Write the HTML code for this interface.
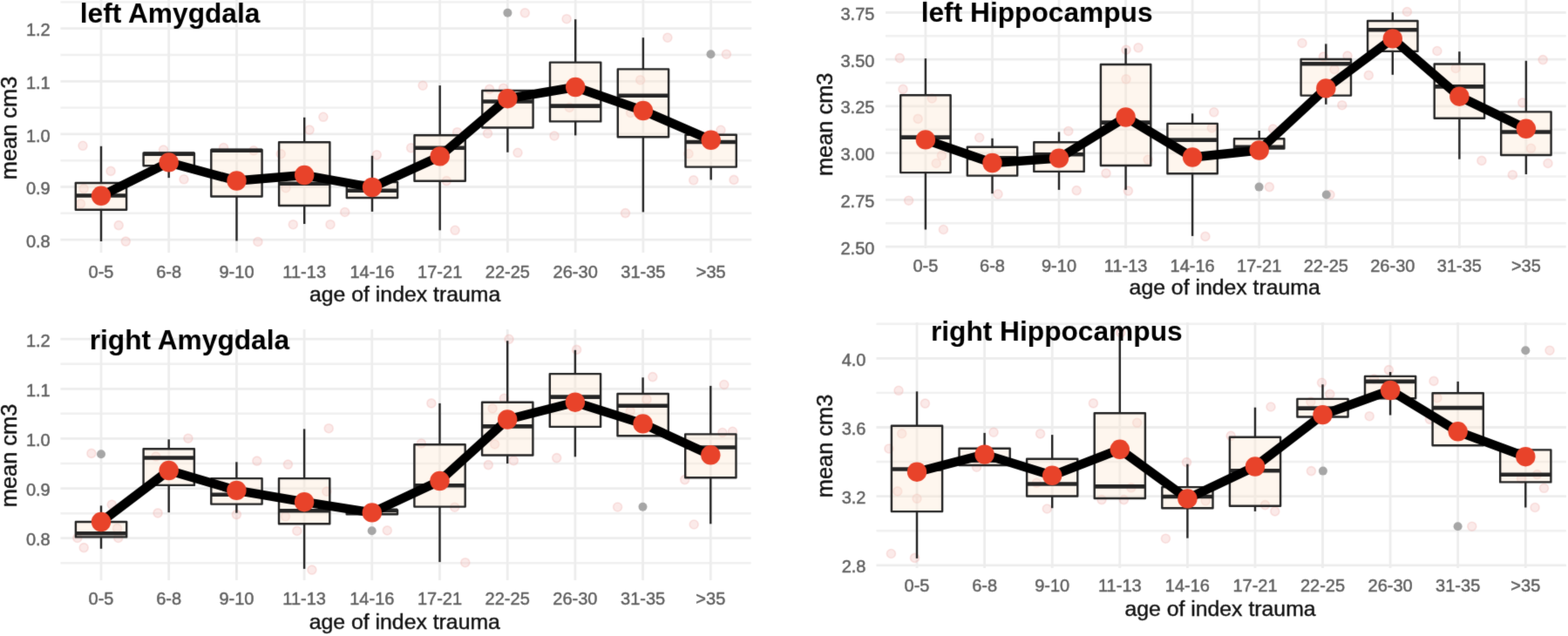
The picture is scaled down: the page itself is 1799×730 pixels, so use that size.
<!DOCTYPE html>
<html><head><meta charset="utf-8"><title>Amygdala and Hippocampus volume by age of index trauma</title>
<style>
html,body{margin:0;padding:0;background:#fff;}
body{width:1799px;height:730px;overflow:hidden;}
svg{display:block;}
#wrap{width:1799px;height:730px;}
text{font-family:"Liberation Sans",Arial,Helvetica,sans-serif;}
.tk{font-size:20px;fill:#606060;stroke:#606060;stroke-width:0.45px;}
.at{font-size:24.8px;fill:#111;stroke:#111;stroke-width:0.4px;}
.yt{font-size:25.4px;}
.pt{font-size:31.7px;font-weight:bold;fill:#000;}
.pk{fill:#f3b8b5;fill-opacity:0.3;stroke:#eda09c;stroke-opacity:0.26;stroke-width:1.6;}
.wh{stroke:#242424;stroke-width:2.4;}
.bx{fill:#fbe5d1;fill-opacity:0.36;stroke:#242424;stroke-width:2.4;stroke-linejoin:round;}
.md{stroke:#242424;stroke-width:4.6;}
.ol{fill:#a6a6a6;}
.ml{fill:none;stroke:#000;stroke-width:10.4;stroke-linejoin:round;stroke-linecap:butt;}
.mp{fill:#e8432a;}
</style></head>
<body><div id="wrap">
<svg width="1799" height="730" viewBox="0 0 1799 730">
<defs><filter id="soft" x="0" y="0" width="1799" height="730" filterUnits="userSpaceOnUse" color-interpolation-filters="sRGB"><feConvolveMatrix order="3" kernelMatrix="0.0114 0.0841 0.0114 0.0841 0.618 0.0841 0.0114 0.0841 0.0114" edgeMode="duplicate"/></filter></defs>
<g filter="url(#soft)">
<rect x="0" y="0" width="1799" height="730" fill="#fff"/>
<line x1="69.4" y1="244.8" x2="862.3" y2="244.8" stroke="#f0f0f0" stroke-width="2.4"/>
<line x1="69.4" y1="184.2" x2="862.3" y2="184.2" stroke="#f0f0f0" stroke-width="2.4"/>
<line x1="69.4" y1="123.6" x2="862.3" y2="123.6" stroke="#f0f0f0" stroke-width="2.4"/>
<line x1="69.4" y1="63" x2="862.3" y2="63" stroke="#f0f0f0" stroke-width="2.4"/>
<line x1="69.4" y1="2.4" x2="862.3" y2="2.4" stroke="#f0f0f0" stroke-width="2.4"/>
<line x1="69.4" y1="275.1" x2="862.3" y2="275.1" stroke="#ededed" stroke-width="2.8"/>
<line x1="69.4" y1="214.5" x2="862.3" y2="214.5" stroke="#ededed" stroke-width="2.8"/>
<line x1="69.4" y1="153.9" x2="862.3" y2="153.9" stroke="#ededed" stroke-width="2.8"/>
<line x1="69.4" y1="93.3" x2="862.3" y2="93.3" stroke="#ededed" stroke-width="2.8"/>
<line x1="69.4" y1="32.7" x2="862.3" y2="32.7" stroke="#ededed" stroke-width="2.8"/>
<line x1="116" y1="0" x2="116" y2="290" stroke="#ededed" stroke-width="2.8"/>
<line x1="193.7" y1="0" x2="193.7" y2="290" stroke="#ededed" stroke-width="2.8"/>
<line x1="271.5" y1="0" x2="271.5" y2="290" stroke="#ededed" stroke-width="2.8"/>
<line x1="349.2" y1="0" x2="349.2" y2="290" stroke="#ededed" stroke-width="2.8"/>
<line x1="427" y1="0" x2="427" y2="290" stroke="#ededed" stroke-width="2.8"/>
<line x1="504.7" y1="0" x2="504.7" y2="290" stroke="#ededed" stroke-width="2.8"/>
<line x1="582.4" y1="0" x2="582.4" y2="290" stroke="#ededed" stroke-width="2.8"/>
<line x1="660.2" y1="0" x2="660.2" y2="290" stroke="#ededed" stroke-width="2.8"/>
<line x1="737.9" y1="0" x2="737.9" y2="290" stroke="#ededed" stroke-width="2.8"/>
<line x1="815.7" y1="0" x2="815.7" y2="290" stroke="#ededed" stroke-width="2.8"/>
<circle cx="95" cy="167.3" r="5" class="pk"/>
<circle cx="127.1" cy="196.4" r="5" class="pk"/>
<circle cx="136.2" cy="258.6" r="5" class="pk"/>
<circle cx="144.3" cy="277.1" r="5" class="pk"/>
<circle cx="96.2" cy="216.6" r="5" class="pk"/>
<circle cx="92.5" cy="233.9" r="5" class="pk"/>
<circle cx="211" cy="205.8" r="5" class="pk"/>
<circle cx="187.5" cy="172" r="5" class="pk"/>
<circle cx="256.6" cy="169.5" r="5" class="pk"/>
<circle cx="291" cy="172.8" r="5" class="pk"/>
<circle cx="295.9" cy="277.5" r="5" class="pk"/>
<circle cx="322.3" cy="176.7" r="5" class="pk"/>
<circle cx="327.9" cy="215.7" r="5" class="pk"/>
<circle cx="336.3" cy="257.7" r="5" class="pk"/>
<circle cx="355.1" cy="149.1" r="5" class="pk"/>
<circle cx="370.9" cy="134.3" r="5" class="pk"/>
<circle cx="379" cy="257.7" r="5" class="pk"/>
<circle cx="395.7" cy="243.5" r="5" class="pk"/>
<circle cx="432.3" cy="177.8" r="5" class="pk"/>
<circle cx="485.1" cy="98.2" r="5" class="pk"/>
<circle cx="602.3" cy="14.8" r="5" class="pk"/>
<circle cx="561.6" cy="102.4" r="5" class="pk"/>
<circle cx="577.6" cy="101.2" r="5" class="pk"/>
<circle cx="559.5" cy="153.2" r="5" class="pk"/>
<circle cx="594" cy="175.3" r="5" class="pk"/>
<circle cx="524.6" cy="151.7" r="5" class="pk"/>
<circle cx="471.6" cy="169.8" r="5" class="pk"/>
<circle cx="512.3" cy="207.6" r="5" class="pk"/>
<circle cx="522.1" cy="264.3" r="5" class="pk"/>
<circle cx="650.1" cy="21.7" r="5" class="pk"/>
<circle cx="765.9" cy="43.2" r="5" class="pk"/>
<circle cx="833.4" cy="62.2" r="5" class="pk"/>
<circle cx="734.7" cy="91.8" r="5" class="pk"/>
<circle cx="653.3" cy="123.4" r="5" class="pk"/>
<circle cx="723.6" cy="129.5" r="5" class="pk"/>
<circle cx="636" cy="156" r="5" class="pk"/>
<circle cx="827" cy="149.3" r="5" class="pk"/>
<circle cx="790" cy="176.5" r="5" class="pk"/>
<circle cx="795.7" cy="206.8" r="5" class="pk"/>
<circle cx="842" cy="206.4" r="5" class="pk"/>
<circle cx="717.5" cy="244.6" r="5" class="pk"/>
<line x1="116" y1="167.8" x2="116" y2="210" class="wh"/>
<line x1="116" y1="240.8" x2="116" y2="277" class="wh"/>
<rect x="86.8" y="210" width="58.3" height="30.8" class="bx"/>
<line x1="86.8" y1="224.5" x2="145.2" y2="224.5" class="md"/>
<line x1="193.7" y1="190.3" x2="193.7" y2="204.1" class="wh"/>
<rect x="164.6" y="175.8" width="58.3" height="14.5" class="bx"/>
<line x1="164.6" y1="176.6" x2="222.9" y2="176.6" class="md"/>
<line x1="271.5" y1="225.5" x2="271.5" y2="276.5" class="wh"/>
<rect x="242.3" y="172" width="58.3" height="53.5" class="bx"/>
<line x1="242.3" y1="172.8" x2="300.6" y2="172.8" class="md"/>
<line x1="349.2" y1="134.8" x2="349.2" y2="163.2" class="wh"/>
<line x1="349.2" y1="236" x2="349.2" y2="257" class="wh"/>
<rect x="320.1" y="163.2" width="58.3" height="72.8" class="bx"/>
<line x1="320.1" y1="210.8" x2="378.4" y2="210.8" class="md"/>
<line x1="427" y1="178.8" x2="427" y2="209" class="wh"/>
<line x1="427" y1="227" x2="427" y2="242.9" class="wh"/>
<rect x="397.8" y="209" width="58.3" height="18" class="bx"/>
<line x1="397.8" y1="218.8" x2="456.1" y2="218.8" class="md"/>
<line x1="504.7" y1="98.1" x2="504.7" y2="155.3" class="wh"/>
<line x1="504.7" y1="207.8" x2="504.7" y2="264.3" class="wh"/>
<rect x="475.5" y="155.3" width="58.3" height="52.5" class="bx"/>
<line x1="475.5" y1="169.8" x2="533.9" y2="169.8" class="md"/>
<line x1="582.4" y1="146.5" x2="582.4" y2="174.8" class="wh"/>
<rect x="553.3" y="104" width="58.3" height="42.5" class="bx"/>
<line x1="553.3" y1="116.5" x2="611.6" y2="116.5" class="md"/>
<line x1="660.2" y1="22.2" x2="660.2" y2="71.6" class="wh"/>
<line x1="660.2" y1="139.4" x2="660.2" y2="155.4" class="wh"/>
<rect x="631" y="71.6" width="58.3" height="67.8" class="bx"/>
<line x1="631" y1="121.6" x2="689.3" y2="121.6" class="md"/>
<line x1="737.9" y1="43.2" x2="737.9" y2="79.4" class="wh"/>
<line x1="737.9" y1="157.2" x2="737.9" y2="243.4" class="wh"/>
<rect x="708.8" y="79.4" width="58.3" height="77.8" class="bx"/>
<line x1="708.8" y1="109.8" x2="767.1" y2="109.8" class="md"/>
<line x1="815.7" y1="191.6" x2="815.7" y2="206.4" class="wh"/>
<rect x="786.5" y="154.8" width="58.3" height="36.8" class="bx"/>
<line x1="786.5" y1="163" x2="844.8" y2="163" class="md"/>
<circle cx="582.4" cy="14.8" r="5" class="ol"/>
<circle cx="815.5" cy="62.2" r="5" class="ol"/>
<polyline points="116,224.8 193.7,186.4 271.5,207.5 349.2,201 427,215 504.7,179.4 582.4,113.2 660.2,100 737.9,127 815.7,160.8" class="ml"/>
<circle cx="116" cy="224.8" r="11.2" class="mp"/>
<circle cx="193.7" cy="186.4" r="11.2" class="mp"/>
<circle cx="271.5" cy="207.5" r="11.2" class="mp"/>
<circle cx="349.2" cy="201" r="11.2" class="mp"/>
<circle cx="427" cy="215" r="11.2" class="mp"/>
<circle cx="504.7" cy="179.4" r="11.2" class="mp"/>
<circle cx="582.4" cy="113.2" r="11.2" class="mp"/>
<circle cx="660.2" cy="100" r="11.2" class="mp"/>
<circle cx="737.9" cy="127" r="11.2" class="mp"/>
<circle cx="815.7" cy="160.8" r="11.2" class="mp"/>
<text x="57.7" y="283.7" class="tk" text-anchor="end">0.8</text>
<text x="57.7" y="223.1" class="tk" text-anchor="end">0.9</text>
<text x="57.7" y="162.5" class="tk" text-anchor="end">1.0</text>
<text x="57.7" y="101.9" class="tk" text-anchor="end">1.1</text>
<text x="57.7" y="41.3" class="tk" text-anchor="end">1.2</text>
<text x="116" y="318.5" class="tk" text-anchor="middle">0-5</text>
<text x="193.7" y="318.5" class="tk" text-anchor="middle">6-8</text>
<text x="271.5" y="318.5" class="tk" text-anchor="middle">9-10</text>
<text x="349.2" y="318.5" class="tk" text-anchor="middle">11-13</text>
<text x="427" y="318.5" class="tk" text-anchor="middle">14-16</text>
<text x="504.7" y="318.5" class="tk" text-anchor="middle">17-21</text>
<text x="582.4" y="318.5" class="tk" text-anchor="middle">22-25</text>
<text x="660.2" y="318.5" class="tk" text-anchor="middle">26-30</text>
<text x="737.9" y="318.5" class="tk" text-anchor="middle">31-35</text>
<text x="815.7" y="318.5" class="tk" text-anchor="middle">&gt;35</text>
<text x="464.6" y="346" class="at" text-anchor="middle">age of index trauma</text>
<text transform="translate(19,147) rotate(-90)" class="at yt" text-anchor="middle">mean cm3</text>
<text x="91.8" y="26.1" class="pt">left Amygdala</text>
<line x1="1016" y1="256.3" x2="1796.8" y2="256.3" stroke="#f0f0f0" stroke-width="2.4"/>
<line x1="1016" y1="202.5" x2="1796.8" y2="202.5" stroke="#f0f0f0" stroke-width="2.4"/>
<line x1="1016" y1="148.7" x2="1796.8" y2="148.7" stroke="#f0f0f0" stroke-width="2.4"/>
<line x1="1016" y1="95" x2="1796.8" y2="95" stroke="#f0f0f0" stroke-width="2.4"/>
<line x1="1016" y1="41.2" x2="1796.8" y2="41.2" stroke="#f0f0f0" stroke-width="2.4"/>
<line x1="1016" y1="283.2" x2="1796.8" y2="283.2" stroke="#ededed" stroke-width="2.8"/>
<line x1="1016" y1="229.4" x2="1796.8" y2="229.4" stroke="#ededed" stroke-width="2.8"/>
<line x1="1016" y1="175.6" x2="1796.8" y2="175.6" stroke="#ededed" stroke-width="2.8"/>
<line x1="1016" y1="121.8" x2="1796.8" y2="121.8" stroke="#ededed" stroke-width="2.8"/>
<line x1="1016" y1="68.1" x2="1796.8" y2="68.1" stroke="#ededed" stroke-width="2.8"/>
<line x1="1016" y1="14.3" x2="1796.8" y2="14.3" stroke="#ededed" stroke-width="2.8"/>
<line x1="1061.9" y1="0" x2="1061.9" y2="285" stroke="#ededed" stroke-width="2.8"/>
<line x1="1138.5" y1="0" x2="1138.5" y2="285" stroke="#ededed" stroke-width="2.8"/>
<line x1="1215" y1="0" x2="1215" y2="285" stroke="#ededed" stroke-width="2.8"/>
<line x1="1291.6" y1="0" x2="1291.6" y2="285" stroke="#ededed" stroke-width="2.8"/>
<line x1="1368.1" y1="0" x2="1368.1" y2="285" stroke="#ededed" stroke-width="2.8"/>
<line x1="1444.7" y1="0" x2="1444.7" y2="285" stroke="#ededed" stroke-width="2.8"/>
<line x1="1521.3" y1="0" x2="1521.3" y2="285" stroke="#ededed" stroke-width="2.8"/>
<line x1="1597.8" y1="0" x2="1597.8" y2="285" stroke="#ededed" stroke-width="2.8"/>
<line x1="1674.4" y1="0" x2="1674.4" y2="285" stroke="#ededed" stroke-width="2.8"/>
<line x1="1750.9" y1="0" x2="1750.9" y2="285" stroke="#ededed" stroke-width="2.8"/>
<circle cx="1032.3" cy="66.6" r="5" class="pk"/>
<circle cx="1036" cy="102.4" r="5" class="pk"/>
<circle cx="1069.3" cy="113" r="5" class="pk"/>
<circle cx="1053.2" cy="136.4" r="5" class="pk"/>
<circle cx="1123.7" cy="158" r="5" class="pk"/>
<circle cx="1080.4" cy="178.5" r="5" class="pk"/>
<circle cx="1074.2" cy="187.5" r="5" class="pk"/>
<circle cx="1042.6" cy="230.2" r="5" class="pk"/>
<circle cx="1082.4" cy="263.5" r="5" class="pk"/>
<circle cx="1145" cy="222.8" r="5" class="pk"/>
<circle cx="1225.8" cy="150.5" r="5" class="pk"/>
<circle cx="1292" cy="57.2" r="5" class="pk"/>
<circle cx="1306" cy="54.8" r="5" class="pk"/>
<circle cx="1292" cy="90.8" r="5" class="pk"/>
<circle cx="1235.2" cy="218.6" r="5" class="pk"/>
<circle cx="1269" cy="198.9" r="5" class="pk"/>
<circle cx="1294.4" cy="219.1" r="5" class="pk"/>
<circle cx="1317.1" cy="183.3" r="5" class="pk"/>
<circle cx="1494" cy="49.5" r="5" class="pk"/>
<circle cx="1392.8" cy="128.8" r="5" class="pk"/>
<circle cx="1390.3" cy="146.8" r="5" class="pk"/>
<circle cx="1460.6" cy="148" r="5" class="pk"/>
<circle cx="1531" cy="79.6" r="5" class="pk"/>
<circle cx="1539.8" cy="120.7" r="5" class="pk"/>
<circle cx="1382.9" cy="271.4" r="5" class="pk"/>
<circle cx="1456.4" cy="214.6" r="5" class="pk"/>
<circle cx="1526" cy="223.5" r="5" class="pk"/>
<circle cx="1614.4" cy="13.5" r="5" class="pk"/>
<circle cx="1570.3" cy="86.4" r="5" class="pk"/>
<circle cx="1546" cy="64.1" r="5" class="pk"/>
<circle cx="1518.4" cy="65.1" r="5" class="pk"/>
<circle cx="1648.9" cy="58.5" r="5" class="pk"/>
<circle cx="1770.2" cy="68.6" r="5" class="pk"/>
<circle cx="1670.2" cy="78.5" r="5" class="pk"/>
<circle cx="1746.8" cy="117.9" r="5" class="pk"/>
<circle cx="1756.6" cy="170.3" r="5" class="pk"/>
<circle cx="1776" cy="187.5" r="5" class="pk"/>
<circle cx="1699.9" cy="184.4" r="5" class="pk"/>
<circle cx="1735.4" cy="200.7" r="5" class="pk"/>
<line x1="1061.9" y1="67.1" x2="1061.9" y2="109.3" class="wh"/>
<line x1="1061.9" y1="198.1" x2="1061.9" y2="263.5" class="wh"/>
<rect x="1033.2" y="109.3" width="57.4" height="88.8" class="bx"/>
<line x1="1033.2" y1="157.6" x2="1090.6" y2="157.6" class="md"/>
<line x1="1138.5" y1="158.8" x2="1138.5" y2="168.8" class="wh"/>
<line x1="1138.5" y1="201.6" x2="1138.5" y2="222.2" class="wh"/>
<rect x="1109.8" y="168.8" width="57.4" height="32.8" class="bx"/>
<line x1="1109.8" y1="181.2" x2="1167.2" y2="181.2" class="md"/>
<line x1="1215" y1="151.5" x2="1215" y2="163.3" class="wh"/>
<line x1="1215" y1="196.9" x2="1215" y2="217.9" class="wh"/>
<rect x="1186.3" y="163.3" width="57.4" height="33.6" class="bx"/>
<line x1="1186.3" y1="177.3" x2="1243.7" y2="177.3" class="md"/>
<line x1="1291.6" y1="55.5" x2="1291.6" y2="74" class="wh"/>
<line x1="1291.6" y1="190" x2="1291.6" y2="217.9" class="wh"/>
<rect x="1262.9" y="74" width="57.4" height="116" class="bx"/>
<line x1="1262.9" y1="140.6" x2="1320.3" y2="140.6" class="md"/>
<line x1="1368.1" y1="130.3" x2="1368.1" y2="141.9" class="wh"/>
<line x1="1368.1" y1="199.3" x2="1368.1" y2="270.9" class="wh"/>
<rect x="1339.4" y="141.9" width="57.4" height="57.4" class="bx"/>
<line x1="1339.4" y1="160.6" x2="1396.9" y2="160.6" class="md"/>
<line x1="1444.7" y1="150" x2="1444.7" y2="159.2" class="wh"/>
<rect x="1416" y="159.2" width="57.4" height="11.3" class="bx"/>
<line x1="1416" y1="168.8" x2="1473.4" y2="168.8" class="md"/>
<line x1="1521.3" y1="50.4" x2="1521.3" y2="68" class="wh"/>
<line x1="1521.3" y1="109.6" x2="1521.3" y2="119.8" class="wh"/>
<rect x="1492.6" y="68" width="57.4" height="41.6" class="bx"/>
<line x1="1492.6" y1="73.2" x2="1550" y2="73.2" class="md"/>
<line x1="1597.8" y1="14.2" x2="1597.8" y2="24" class="wh"/>
<line x1="1597.8" y1="58.9" x2="1597.8" y2="85.8" class="wh"/>
<rect x="1569.1" y="24" width="57.4" height="34.9" class="bx"/>
<line x1="1569.1" y1="34.2" x2="1626.5" y2="34.2" class="md"/>
<line x1="1674.4" y1="59.2" x2="1674.4" y2="73.5" class="wh"/>
<line x1="1674.4" y1="135.8" x2="1674.4" y2="182.7" class="wh"/>
<rect x="1645.7" y="73.5" width="57.4" height="62.3" class="bx"/>
<line x1="1645.7" y1="99.4" x2="1703.1" y2="99.4" class="md"/>
<line x1="1750.9" y1="69.8" x2="1750.9" y2="128.4" class="wh"/>
<line x1="1750.9" y1="178" x2="1750.9" y2="200" class="wh"/>
<rect x="1722.2" y="128.4" width="57.4" height="49.6" class="bx"/>
<line x1="1722.2" y1="151.5" x2="1779.7" y2="151.5" class="md"/>
<circle cx="1444.6" cy="214.6" r="5" class="ol"/>
<circle cx="1521.8" cy="223.5" r="5" class="ol"/>
<polyline points="1061.9,160.4 1138.5,187 1215,181.6 1291.6,134.5 1368.1,180.5 1444.7,172.5 1521.3,101.4 1597.8,44.4 1674.4,110.7 1750.9,147.8" class="ml"/>
<circle cx="1061.9" cy="160.4" r="11.2" class="mp"/>
<circle cx="1138.5" cy="187" r="11.2" class="mp"/>
<circle cx="1215" cy="181.6" r="11.2" class="mp"/>
<circle cx="1291.6" cy="134.5" r="11.2" class="mp"/>
<circle cx="1368.1" cy="180.5" r="11.2" class="mp"/>
<circle cx="1444.7" cy="172.5" r="11.2" class="mp"/>
<circle cx="1521.3" cy="101.4" r="11.2" class="mp"/>
<circle cx="1597.8" cy="44.4" r="11.2" class="mp"/>
<circle cx="1674.4" cy="110.7" r="11.2" class="mp"/>
<circle cx="1750.9" cy="147.8" r="11.2" class="mp"/>
<text x="1003.4" y="291.8" class="tk" text-anchor="end">2.50</text>
<text x="1003.4" y="238" class="tk" text-anchor="end">2.75</text>
<text x="1003.4" y="184.2" class="tk" text-anchor="end">3.00</text>
<text x="1003.4" y="130.4" class="tk" text-anchor="end">3.25</text>
<text x="1003.4" y="76.7" class="tk" text-anchor="end">3.50</text>
<text x="1003.4" y="22.9" class="tk" text-anchor="end">3.75</text>
<text x="1061.9" y="311.7" class="tk" text-anchor="middle">0-5</text>
<text x="1138.5" y="311.7" class="tk" text-anchor="middle">6-8</text>
<text x="1215" y="311.7" class="tk" text-anchor="middle">9-10</text>
<text x="1291.6" y="311.7" class="tk" text-anchor="middle">11-13</text>
<text x="1368.1" y="311.7" class="tk" text-anchor="middle">14-16</text>
<text x="1444.7" y="311.7" class="tk" text-anchor="middle">17-21</text>
<text x="1521.3" y="311.7" class="tk" text-anchor="middle">22-25</text>
<text x="1597.8" y="311.7" class="tk" text-anchor="middle">26-30</text>
<text x="1674.4" y="311.7" class="tk" text-anchor="middle">31-35</text>
<text x="1750.9" y="311.7" class="tk" text-anchor="middle">&gt;35</text>
<text x="1405.2" y="337.7" class="at" text-anchor="middle">age of index trauma</text>
<text transform="translate(955,142.8) rotate(-90)" class="at yt" text-anchor="middle">mean cm3</text>
<text x="1056.7" y="24.8" class="pt">left Hippocampus</text>
<line x1="69.4" y1="646.3" x2="861.6" y2="646.3" stroke="#f0f0f0" stroke-width="2.4"/>
<line x1="69.4" y1="589.2" x2="861.6" y2="589.2" stroke="#f0f0f0" stroke-width="2.4"/>
<line x1="69.4" y1="532" x2="861.6" y2="532" stroke="#f0f0f0" stroke-width="2.4"/>
<line x1="69.4" y1="474.8" x2="861.6" y2="474.8" stroke="#f0f0f0" stroke-width="2.4"/>
<line x1="69.4" y1="417.7" x2="861.6" y2="417.7" stroke="#f0f0f0" stroke-width="2.4"/>
<line x1="69.4" y1="617.7" x2="861.6" y2="617.7" stroke="#ededed" stroke-width="2.8"/>
<line x1="69.4" y1="560.6" x2="861.6" y2="560.6" stroke="#ededed" stroke-width="2.8"/>
<line x1="69.4" y1="503.4" x2="861.6" y2="503.4" stroke="#ededed" stroke-width="2.8"/>
<line x1="69.4" y1="446.3" x2="861.6" y2="446.3" stroke="#ededed" stroke-width="2.8"/>
<line x1="69.4" y1="389.1" x2="861.6" y2="389.1" stroke="#ededed" stroke-width="2.8"/>
<line x1="116" y1="378" x2="116" y2="666" stroke="#ededed" stroke-width="2.8"/>
<line x1="193.7" y1="378" x2="193.7" y2="666" stroke="#ededed" stroke-width="2.8"/>
<line x1="271.4" y1="378" x2="271.4" y2="666" stroke="#ededed" stroke-width="2.8"/>
<line x1="349.1" y1="378" x2="349.1" y2="666" stroke="#ededed" stroke-width="2.8"/>
<line x1="426.8" y1="378" x2="426.8" y2="666" stroke="#ededed" stroke-width="2.8"/>
<line x1="504.5" y1="378" x2="504.5" y2="666" stroke="#ededed" stroke-width="2.8"/>
<line x1="582.2" y1="378" x2="582.2" y2="666" stroke="#ededed" stroke-width="2.8"/>
<line x1="659.9" y1="378" x2="659.9" y2="666" stroke="#ededed" stroke-width="2.8"/>
<line x1="737.6" y1="378" x2="737.6" y2="666" stroke="#ededed" stroke-width="2.8"/>
<line x1="815.3" y1="378" x2="815.3" y2="666" stroke="#ededed" stroke-width="2.8"/>
<circle cx="104.9" cy="520.4" r="5" class="pk"/>
<circle cx="215.9" cy="503.2" r="5" class="pk"/>
<circle cx="128.3" cy="579.2" r="5" class="pk"/>
<circle cx="181.1" cy="588.9" r="5" class="pk"/>
<circle cx="96.2" cy="628.6" r="5" class="pk"/>
<circle cx="88.8" cy="617.5" r="5" class="pk"/>
<circle cx="135.7" cy="617.5" r="5" class="pk"/>
<circle cx="134.5" cy="606.4" r="5" class="pk"/>
<circle cx="178.9" cy="524" r="5" class="pk"/>
<circle cx="294.8" cy="529.1" r="5" class="pk"/>
<circle cx="330.4" cy="533.1" r="5" class="pk"/>
<circle cx="271.4" cy="590.6" r="5" class="pk"/>
<circle cx="327.5" cy="592.8" r="5" class="pk"/>
<circle cx="340.8" cy="609.4" r="5" class="pk"/>
<circle cx="377.2" cy="491.7" r="5" class="pk"/>
<circle cx="374.8" cy="564.1" r="5" class="pk"/>
<circle cx="444.3" cy="608.9" r="5" class="pk"/>
<circle cx="483.4" cy="509" r="5" class="pk"/>
<circle cx="357.9" cy="654.1" r="5" class="pk"/>
<circle cx="494.9" cy="462.9" r="5" class="pk"/>
<circle cx="584" cy="389.3" r="5" class="pk"/>
<circle cx="661.6" cy="401.4" r="5" class="pk"/>
<circle cx="565.1" cy="468.9" r="5" class="pk"/>
<circle cx="567.6" cy="509.9" r="5" class="pk"/>
<circle cx="560.3" cy="533.6" r="5" class="pk"/>
<circle cx="589.3" cy="528.7" r="5" class="pk"/>
<circle cx="638.7" cy="525.6" r="5" class="pk"/>
<circle cx="578.4" cy="457.3" r="5" class="pk"/>
<circle cx="748.8" cy="432.6" r="5" class="pk"/>
<circle cx="830.8" cy="441.5" r="5" class="pk"/>
<circle cx="742" cy="458.4" r="5" class="pk"/>
<circle cx="723.2" cy="471.9" r="5" class="pk"/>
<circle cx="828.9" cy="496.5" r="5" class="pk"/>
<circle cx="840.5" cy="495.3" r="5" class="pk"/>
<circle cx="785.7" cy="550.6" r="5" class="pk"/>
<circle cx="521.7" cy="582.2" r="5" class="pk"/>
<circle cx="533.8" cy="645.7" r="5" class="pk"/>
<circle cx="708.6" cy="582" r="5" class="pk"/>
<circle cx="796.2" cy="602" r="5" class="pk"/>
<line x1="116" y1="580.4" x2="116" y2="599" class="wh"/>
<line x1="116" y1="616.4" x2="116" y2="629.8" class="wh"/>
<rect x="86.9" y="599" width="58.3" height="17.4" class="bx"/>
<line x1="86.9" y1="612.2" x2="145.1" y2="612.2" class="md"/>
<line x1="193.7" y1="504.3" x2="193.7" y2="515.2" class="wh"/>
<line x1="193.7" y1="556.9" x2="193.7" y2="588.2" class="wh"/>
<rect x="164.6" y="515.2" width="58.3" height="41.7" class="bx"/>
<line x1="164.6" y1="525.5" x2="222.8" y2="525.5" class="md"/>
<line x1="271.4" y1="530.3" x2="271.4" y2="549.1" class="wh"/>
<line x1="271.4" y1="578.6" x2="271.4" y2="588.7" class="wh"/>
<rect x="242.3" y="549.1" width="58.3" height="29.5" class="bx"/>
<line x1="242.3" y1="567.7" x2="300.5" y2="567.7" class="md"/>
<line x1="349.1" y1="492.4" x2="349.1" y2="549.1" class="wh"/>
<line x1="349.1" y1="601.3" x2="349.1" y2="652.9" class="wh"/>
<rect x="320" y="549.1" width="58.3" height="52.2" class="bx"/>
<line x1="320" y1="586.3" x2="378.2" y2="586.3" class="md"/>
<rect x="397.7" y="585.4" width="58.3" height="4.9" class="bx"/>
<line x1="397.7" y1="585.9" x2="455.9" y2="585.9" class="md"/>
<line x1="504.5" y1="462.9" x2="504.5" y2="510.2" class="wh"/>
<line x1="504.5" y1="581.6" x2="504.5" y2="645.1" class="wh"/>
<rect x="475.4" y="510.2" width="58.3" height="71.4" class="bx"/>
<line x1="475.4" y1="557.2" x2="533.6" y2="557.2" class="md"/>
<line x1="582.2" y1="391.2" x2="582.2" y2="461.7" class="wh"/>
<line x1="582.2" y1="522.5" x2="582.2" y2="532.1" class="wh"/>
<rect x="553.1" y="461.7" width="58.3" height="60.8" class="bx"/>
<line x1="553.1" y1="489.4" x2="611.3" y2="489.4" class="md"/>
<line x1="659.9" y1="401.8" x2="659.9" y2="429.1" class="wh"/>
<line x1="659.9" y1="489.9" x2="659.9" y2="524.3" class="wh"/>
<rect x="630.8" y="429.1" width="58.3" height="60.8" class="bx"/>
<line x1="630.8" y1="455.6" x2="689" y2="455.6" class="md"/>
<line x1="737.6" y1="433.3" x2="737.6" y2="452" class="wh"/>
<rect x="708.5" y="452" width="58.3" height="48.2" class="bx"/>
<line x1="708.5" y1="465.8" x2="766.7" y2="465.8" class="md"/>
<line x1="815.3" y1="442.9" x2="815.3" y2="498.4" class="wh"/>
<line x1="815.3" y1="548.3" x2="815.3" y2="601.3" class="wh"/>
<rect x="786.2" y="498.4" width="58.3" height="49.9" class="bx"/>
<line x1="786.2" y1="513.5" x2="844.4" y2="513.5" class="md"/>
<circle cx="116" cy="521.2" r="5" class="ol"/>
<circle cx="426.7" cy="609.2" r="5" class="ol"/>
<circle cx="737.5" cy="581.8" r="5" class="ol"/>
<polyline points="116,599 193.7,540 271.4,562.9 349.1,576.2 426.8,588.4 504.5,552 582.2,481.5 659.9,461.7 737.6,486.4 815.3,522.3" class="ml"/>
<circle cx="116" cy="599" r="11.2" class="mp"/>
<circle cx="193.7" cy="540" r="11.2" class="mp"/>
<circle cx="271.4" cy="562.9" r="11.2" class="mp"/>
<circle cx="349.1" cy="576.2" r="11.2" class="mp"/>
<circle cx="426.8" cy="588.4" r="11.2" class="mp"/>
<circle cx="504.5" cy="552" r="11.2" class="mp"/>
<circle cx="582.2" cy="481.5" r="11.2" class="mp"/>
<circle cx="659.9" cy="461.7" r="11.2" class="mp"/>
<circle cx="737.6" cy="486.4" r="11.2" class="mp"/>
<circle cx="815.3" cy="522.3" r="11.2" class="mp"/>
<text x="57.7" y="626.3" class="tk" text-anchor="end">0.8</text>
<text x="57.7" y="569.2" class="tk" text-anchor="end">0.9</text>
<text x="57.7" y="512" class="tk" text-anchor="end">1.0</text>
<text x="57.7" y="454.9" class="tk" text-anchor="end">1.1</text>
<text x="57.7" y="397.7" class="tk" text-anchor="end">1.2</text>
<text x="116" y="693.5" class="tk" text-anchor="middle">0-5</text>
<text x="193.7" y="693.5" class="tk" text-anchor="middle">6-8</text>
<text x="271.4" y="693.5" class="tk" text-anchor="middle">9-10</text>
<text x="349.1" y="693.5" class="tk" text-anchor="middle">11-13</text>
<text x="426.8" y="693.5" class="tk" text-anchor="middle">14-16</text>
<text x="504.5" y="693.5" class="tk" text-anchor="middle">17-21</text>
<text x="582.2" y="693.5" class="tk" text-anchor="middle">22-25</text>
<text x="659.9" y="693.5" class="tk" text-anchor="middle">26-30</text>
<text x="737.6" y="693.5" class="tk" text-anchor="middle">31-35</text>
<text x="815.3" y="693.5" class="tk" text-anchor="middle">&gt;35</text>
<text x="464.3" y="722" class="at" text-anchor="middle">age of index trauma</text>
<text transform="translate(19,523) rotate(-90)" class="at yt" text-anchor="middle">mean cm3</text>
<text x="102.7" y="400.6" class="pt">right Amygdala</text>
<line x1="1005.4" y1="609.2" x2="1796.9" y2="609.2" stroke="#f0f0f0" stroke-width="2.4"/>
<line x1="1005.4" y1="530" x2="1796.9" y2="530" stroke="#f0f0f0" stroke-width="2.4"/>
<line x1="1005.4" y1="450.9" x2="1796.9" y2="450.9" stroke="#f0f0f0" stroke-width="2.4"/>
<line x1="1005.4" y1="371.7" x2="1796.9" y2="371.7" stroke="#f0f0f0" stroke-width="2.4"/>
<line x1="1005.4" y1="648.8" x2="1796.9" y2="648.8" stroke="#ededed" stroke-width="2.8"/>
<line x1="1005.4" y1="569.6" x2="1796.9" y2="569.6" stroke="#ededed" stroke-width="2.8"/>
<line x1="1005.4" y1="490.5" x2="1796.9" y2="490.5" stroke="#ededed" stroke-width="2.8"/>
<line x1="1005.4" y1="411.3" x2="1796.9" y2="411.3" stroke="#ededed" stroke-width="2.8"/>
<line x1="1052" y1="370" x2="1052" y2="652" stroke="#ededed" stroke-width="2.8"/>
<line x1="1129.6" y1="370" x2="1129.6" y2="652" stroke="#ededed" stroke-width="2.8"/>
<line x1="1207.2" y1="370" x2="1207.2" y2="652" stroke="#ededed" stroke-width="2.8"/>
<line x1="1284.8" y1="370" x2="1284.8" y2="652" stroke="#ededed" stroke-width="2.8"/>
<line x1="1362.4" y1="370" x2="1362.4" y2="652" stroke="#ededed" stroke-width="2.8"/>
<line x1="1440" y1="370" x2="1440" y2="652" stroke="#ededed" stroke-width="2.8"/>
<line x1="1517.5" y1="370" x2="1517.5" y2="652" stroke="#ededed" stroke-width="2.8"/>
<line x1="1595.1" y1="370" x2="1595.1" y2="652" stroke="#ededed" stroke-width="2.8"/>
<line x1="1672.7" y1="370" x2="1672.7" y2="652" stroke="#ededed" stroke-width="2.8"/>
<line x1="1750.3" y1="370" x2="1750.3" y2="652" stroke="#ededed" stroke-width="2.8"/>
<circle cx="1031" cy="448.3" r="5" class="pk"/>
<circle cx="1061.4" cy="463.1" r="5" class="pk"/>
<circle cx="1034.7" cy="497.7" r="5" class="pk"/>
<circle cx="1019.9" cy="515" r="5" class="pk"/>
<circle cx="1140" cy="496.2" r="5" class="pk"/>
<circle cx="1029.8" cy="563.9" r="5" class="pk"/>
<circle cx="1052" cy="572.3" r="5" class="pk"/>
<circle cx="1022.4" cy="635.5" r="5" class="pk"/>
<circle cx="1049.5" cy="640.4" r="5" class="pk"/>
<circle cx="1193.6" cy="497.9" r="5" class="pk"/>
<circle cx="1254.4" cy="462.9" r="5" class="pk"/>
<circle cx="1304.6" cy="485.3" r="5" class="pk"/>
<circle cx="1120.5" cy="536.2" r="5" class="pk"/>
<circle cx="1285.8" cy="382" r="5" class="pk"/>
<circle cx="1201.3" cy="584" r="5" class="pk"/>
<circle cx="1264" cy="573.6" r="5" class="pk"/>
<circle cx="1289.4" cy="573.6" r="5" class="pk"/>
<circle cx="1297.8" cy="559.8" r="5" class="pk"/>
<circle cx="1189.3" cy="554.3" r="5" class="pk"/>
<circle cx="1458" cy="467" r="5" class="pk"/>
<circle cx="1412.2" cy="500.3" r="5" class="pk"/>
<circle cx="1361.5" cy="530.6" r="5" class="pk"/>
<circle cx="1504.4" cy="540.6" r="5" class="pk"/>
<circle cx="1516.5" cy="439.3" r="5" class="pk"/>
<circle cx="1503.9" cy="461.2" r="5" class="pk"/>
<circle cx="1337.4" cy="618.2" r="5" class="pk"/>
<circle cx="1451.5" cy="579.6" r="5" class="pk"/>
<circle cx="1462.8" cy="586.9" r="5" class="pk"/>
<circle cx="1383.2" cy="574.8" r="5" class="pk"/>
<circle cx="1525.8" cy="452.4" r="5" class="pk"/>
<circle cx="1593.4" cy="424.6" r="5" class="pk"/>
<circle cx="1571.2" cy="477.7" r="5" class="pk"/>
<circle cx="1645" cy="437.4" r="5" class="pk"/>
<circle cx="1648.9" cy="456.7" r="5" class="pk"/>
<circle cx="1640.4" cy="481.3" r="5" class="pk"/>
<circle cx="1576.5" cy="435" r="5" class="pk"/>
<circle cx="1778" cy="402.2" r="5" class="pk"/>
<circle cx="1688.8" cy="604.2" r="5" class="pk"/>
<circle cx="1771.5" cy="560.3" r="5" class="pk"/>
<circle cx="1761.1" cy="582.5" r="5" class="pk"/>
<circle cx="1745.5" cy="549.5" r="5" class="pk"/>
<circle cx="1763.6" cy="544.6" r="5" class="pk"/>
<line x1="1052" y1="449.3" x2="1052" y2="488.8" class="wh"/>
<line x1="1052" y1="587.1" x2="1052" y2="640.9" class="wh"/>
<rect x="1022.9" y="488.8" width="58.2" height="98.3" class="bx"/>
<line x1="1022.9" y1="538.5" x2="1081.1" y2="538.5" class="md"/>
<line x1="1129.6" y1="496.9" x2="1129.6" y2="514.8" class="wh"/>
<rect x="1100.5" y="514.8" width="58.2" height="19.2" class="bx"/>
<line x1="1100.5" y1="528.7" x2="1158.7" y2="528.7" class="md"/>
<line x1="1207.2" y1="499.1" x2="1207.2" y2="526.8" class="wh"/>
<line x1="1207.2" y1="569.5" x2="1207.2" y2="583.2" class="wh"/>
<rect x="1178.1" y="526.8" width="58.2" height="42.7" class="bx"/>
<line x1="1178.1" y1="555.5" x2="1236.3" y2="555.5" class="md"/>
<line x1="1284.8" y1="382" x2="1284.8" y2="474.2" class="wh"/>
<rect x="1255.7" y="474.2" width="58.2" height="97.8" class="bx"/>
<line x1="1255.7" y1="558.4" x2="1313.9" y2="558.4" class="md"/>
<line x1="1362.4" y1="532.7" x2="1362.4" y2="559.1" class="wh"/>
<line x1="1362.4" y1="583.2" x2="1362.4" y2="617.7" class="wh"/>
<rect x="1333.3" y="559.1" width="58.2" height="24.1" class="bx"/>
<line x1="1333.3" y1="570" x2="1391.5" y2="570" class="md"/>
<line x1="1440" y1="467.7" x2="1440" y2="501.7" class="wh"/>
<line x1="1440" y1="580.8" x2="1440" y2="586.9" class="wh"/>
<rect x="1410.9" y="501.7" width="58.2" height="79.1" class="bx"/>
<line x1="1410.9" y1="540.3" x2="1469" y2="540.3" class="md"/>
<line x1="1517.5" y1="441.3" x2="1517.5" y2="457.9" class="wh"/>
<rect x="1488.4" y="457.9" width="58.2" height="20.6" class="bx"/>
<line x1="1488.4" y1="468.6" x2="1546.6" y2="468.6" class="md"/>
<line x1="1595.1" y1="427" x2="1595.1" y2="431.9" class="wh"/>
<line x1="1595.1" y1="457.2" x2="1595.1" y2="476.5" class="wh"/>
<rect x="1566" y="431.9" width="58.2" height="25.3" class="bx"/>
<line x1="1566" y1="437.9" x2="1624.2" y2="437.9" class="md"/>
<line x1="1672.7" y1="437.9" x2="1672.7" y2="451.2" class="wh"/>
<rect x="1643.6" y="451.2" width="58.2" height="60" class="bx"/>
<line x1="1643.6" y1="468.1" x2="1701.8" y2="468.1" class="md"/>
<line x1="1750.3" y1="553.4" x2="1750.3" y2="582.5" class="wh"/>
<rect x="1721.2" y="516.4" width="58.2" height="37" class="bx"/>
<line x1="1721.2" y1="544.7" x2="1779.4" y2="544.7" class="md"/>
<circle cx="1517.9" cy="540.6" r="5" class="ol"/>
<circle cx="1672.6" cy="604.2" r="5" class="ol"/>
<circle cx="1750.3" cy="402.2" r="5" class="ol"/>
<polyline points="1052,541.7 1129.6,521.6 1207.2,545.8 1284.8,515.8 1362.4,572.4 1440,535.5 1517.5,476.1 1595.1,448 1672.7,495.3 1750.3,524.2" class="ml"/>
<circle cx="1052" cy="541.7" r="11.2" class="mp"/>
<circle cx="1129.6" cy="521.6" r="11.2" class="mp"/>
<circle cx="1207.2" cy="545.8" r="11.2" class="mp"/>
<circle cx="1284.8" cy="515.8" r="11.2" class="mp"/>
<circle cx="1362.4" cy="572.4" r="11.2" class="mp"/>
<circle cx="1440" cy="535.5" r="11.2" class="mp"/>
<circle cx="1517.5" cy="476.1" r="11.2" class="mp"/>
<circle cx="1595.1" cy="448" r="11.2" class="mp"/>
<circle cx="1672.7" cy="495.3" r="11.2" class="mp"/>
<circle cx="1750.3" cy="524.2" r="11.2" class="mp"/>
<text x="993.5" y="657.4" class="tk" text-anchor="end">2.8</text>
<text x="993.5" y="578.2" class="tk" text-anchor="end">3.2</text>
<text x="993.5" y="499.1" class="tk" text-anchor="end">3.6</text>
<text x="993.5" y="419.9" class="tk" text-anchor="end">4.0</text>
<text x="1052" y="679" class="tk" text-anchor="middle">0-5</text>
<text x="1129.6" y="679" class="tk" text-anchor="middle">6-8</text>
<text x="1207.2" y="679" class="tk" text-anchor="middle">9-10</text>
<text x="1284.8" y="679" class="tk" text-anchor="middle">11-13</text>
<text x="1362.4" y="679" class="tk" text-anchor="middle">14-16</text>
<text x="1440" y="679" class="tk" text-anchor="middle">17-21</text>
<text x="1517.5" y="679" class="tk" text-anchor="middle">22-25</text>
<text x="1595.1" y="679" class="tk" text-anchor="middle">26-30</text>
<text x="1672.7" y="679" class="tk" text-anchor="middle">31-35</text>
<text x="1750.3" y="679" class="tk" text-anchor="middle">&gt;35</text>
<text x="1400" y="707" class="at" text-anchor="middle">age of index trauma</text>
<text transform="translate(955,512) rotate(-90)" class="at yt" text-anchor="middle">mean cm3</text>
<text x="1067.9" y="391.2" class="pt">right Hippocampus</text>
</g>
</svg>
</div></body></html>
